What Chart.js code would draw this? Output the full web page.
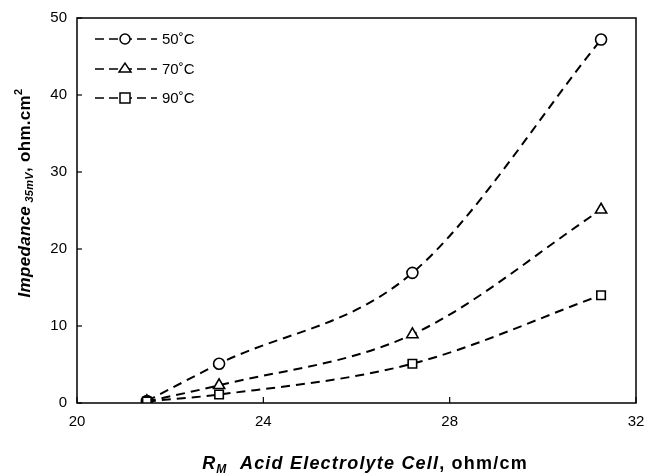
<!DOCTYPE html>
<html lang="en">
<head>
  <meta charset="UTF-8" />
  <title>Impedance vs RM</title>
  <script src="https://cdn.jsdelivr.net/npm/chart.js"></script>
  <style>
    html, body { margin: 0; padding: 0; background: #fff; }
    #wrap { width: 646px; height: 476px; }
  </style>
</head>
<body>
  <div id="wrap"><canvas id="chart" width="646" height="476"></canvas></div>

  <script>
    // values
    const rm = [21.5, 23.05, 27.2, 31.25];
    const imp50 = [0.25, 5.1, 16.9, 47.2];
    const imp70 = [0.2, 2.3, 8.9, 25.1];
    const imp90 = [0.2, 1.1, 5.1, 14.0];
    const seriesNames = ['50\u02DAC', '70\u02DAC', '90\u02DAC'];
    const xTicks = [20, 24, 28, 32];
    const yTicks = [0, 10, 20, 30, 40, 50];

    const FONT = "'Liberation Sans', Arial, Helvetica, sans-serif";

    function pts(ys) { return rm.map((x, i) => ({ x: x, y: ys[i] })); }

    function makeSet(label, ys, style, radius, order) {
      return {
        label: label,
        data: pts(ys),
        showLine: true,
        borderColor: '#000',
        borderWidth: 2,
        borderDash: [9, 6],
        cubicInterpolationMode: 'monotone',
        pointStyle: style,
        pointRadius: radius,
        pointBorderWidth: 1.6,
        pointBorderColor: '#000',
        pointBackgroundColor: '#fff',
        order: order
      };
    }

    function drawMarker(ctx, style, x, y, r) {
      ctx.beginPath();
      if (style === 'circle') {
        ctx.arc(x, y, r, 0, Math.PI * 2);
      } else if (style === 'triangle') {
        const h = r * 1.5;
        ctx.moveTo(x, y - h * 0.66);
        ctx.lineTo(x + r, y + h * 0.34);
        ctx.lineTo(x - r, y + h * 0.34);
        ctx.closePath();
      } else {
        ctx.rect(x - r, y - r, r * 2, r * 2);
      }
      ctx.fillStyle = '#fff';
      ctx.fill();
      ctx.setLineDash([]);
      ctx.lineWidth = 1.5;
      ctx.strokeStyle = '#000';
      ctx.stroke();
    }

    function drawParts(ctx, parts, cx, cy, rot, spacing) {
      ctx.save();
      ctx.letterSpacing = spacing + 'px';
      let total = 0;
      parts.forEach(p => { ctx.font = p[1]; total += ctx.measureText(p[0]).width; });
      ctx.translate(cx, cy);
      ctx.rotate(rot);
      ctx.textBaseline = 'alphabetic';
      ctx.textAlign = 'left';
      ctx.fillStyle = '#000';
      let x = -total / 2;
      parts.forEach(p => {
        ctx.font = p[1];
        ctx.fillText(p[0], x, p[2]);
        x += ctx.measureText(p[0]).width;
      });
      ctx.restore();
    }

    // box, inward ticks, custom legend and mixed-style axis titles
    const decor = {
      id: 'decor',
      afterDraw(chart) {
        const ctx = chart.ctx;
        const a = chart.chartArea;
        const xs = chart.scales.x, ys = chart.scales.y;
        ctx.save();
        ctx.strokeStyle = '#000';
        ctx.lineWidth = 1.5;
        ctx.setLineDash([]);
        ctx.strokeRect(a.left, a.top, a.right - a.left, a.bottom - a.top);

        ctx.lineWidth = 1.2;
        xTicks.forEach(v => {
          const px = xs.getPixelForValue(v);
          ctx.beginPath(); ctx.moveTo(px, a.bottom); ctx.lineTo(px, a.bottom - 6); ctx.stroke();
        });
        yTicks.forEach(v => {
          const py = ys.getPixelForValue(v);
          ctx.beginPath(); ctx.moveTo(a.left, py); ctx.lineTo(a.left + 5, py); ctx.stroke();
        });

        // legend
        const styles = ['circle', 'triangle', 'rect'];
        const radii = [5, 6, 5];
        const rowsY = [39, 69, 98];
        ctx.font = '15px ' + FONT;
        ctx.textBaseline = 'middle';
        ctx.textAlign = 'left';
        seriesNames.forEach((name, i) => {
          const y = rowsY[i];
          ctx.setLineDash([9, 5]);
          ctx.lineWidth = 1.6;
          ctx.beginPath(); ctx.moveTo(95, y); ctx.lineTo(157, y); ctx.stroke();
          drawMarker(ctx, styles[i], 125, y, radii[i]);
          ctx.fillStyle = '#000';
          ctx.fillText(name, 162, y + 1);
        });

        // x title
        const parts = [
          ['R', 'italic bold 18px ' + FONT, 0],
          ['M', 'italic bold 12px ' + FONT, 4],
          ['  Acid Electrolyte Cell', 'italic bold 18px ' + FONT, 0],
          [', ohm/cm', 'bold 18px ' + FONT, 0]
        ];
        drawParts(ctx, parts, 365, 469, 0, 1.2);

        // y title
        const yparts = [
          ['Impedance', 'italic bold 17px ' + FONT, 0],
          [' 35mV', 'italic bold 11px ' + FONT, 3],
          [', ohm.cm', 'bold 17px ' + FONT, 0],
          ['2', 'bold 11px ' + FONT, -8]
        ];
        drawParts(ctx, yparts, 30, 193, -Math.PI / 2, 0.3);
        ctx.restore();
      }
    };

    new Chart(document.getElementById('chart').getContext('2d'), {
      type: 'scatter',
      data: {
        datasets: [
          makeSet(seriesNames[0], imp50, 'circle', 5.5, 2),
          makeSet(seriesNames[1], imp70, 'triangle', 6.5, 1),
          makeSet(seriesNames[2], imp90, 'rect', 6, 0)
        ]
      },
      options: {
        responsive: false,
        animation: false,
        layout: { padding: { left: 0, top: 18, right: 10, bottom: 0 } },
        plugins: { legend: { display: false }, tooltip: { enabled: false } },
        scales: {
          x: {
            type: 'linear', min: 20, max: 32,
            afterFit: s => { s.height = 73; s.paddingRight = 0; s.paddingLeft = 0; },
            afterBuildTicks: s => { s.ticks = xTicks.map(v => ({ value: v })); },
            grid: { display: false, drawTicks: false },
            border: { display: false },
            ticks: { color: '#000', padding: 10, font: { family: FONT, size: 15 } }
          },
          y: {
            type: 'linear', min: 0, max: 50,
            afterFit: s => { s.width = 77; s.paddingTop = 0; s.paddingBottom = 0; },
            afterBuildTicks: s => { s.ticks = yTicks.map(v => ({ value: v })); },
            grid: { display: false, drawTicks: false },
            border: { display: false },
            ticks: { color: '#000', padding: 10, font: { family: FONT, size: 15 } }
          }
        }
      },
      plugins: [decor]
    });
  </script>
</body>
</html>
